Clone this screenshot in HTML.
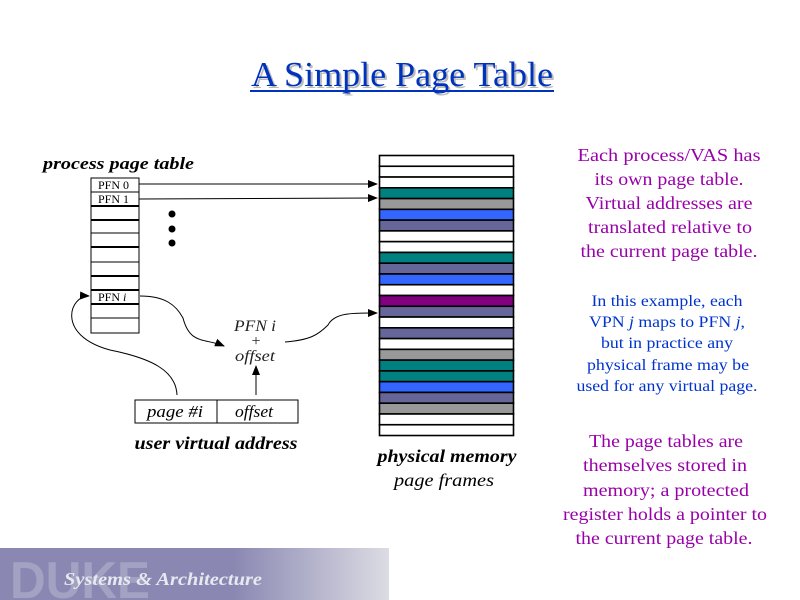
<!DOCTYPE html>
<html><head><meta charset="utf-8"><style>
html,body{margin:0;padding:0;background:#fff;}
body{width:800px;height:600px;position:relative;overflow:hidden;font-family:"Liberation Serif",serif;}
</style></head><body>
<svg width="800" height="600" viewBox="0 0 800 600" xmlns="http://www.w3.org/2000/svg" style="position:absolute;left:0;top:0">
<defs>
<linearGradient id="bn" x1="0" x2="1" y1="0" y2="0">
<stop offset="0" stop-color="#8a88b2"/><stop offset="0.6" stop-color="#8a88b2"/><stop offset="1" stop-color="#dcdce4"/>
</linearGradient>
<marker id="ah" markerWidth="10" markerHeight="8" refX="9" refY="4" orient="auto" markerUnits="userSpaceOnUse">
<path d="M0,0 L10,4 L0,8 z" fill="#000"/></marker>
</defs>
<!-- title -->
<text x="404" y="88" font-size="35" text-anchor="middle" fill="#bbb" textLength="302" lengthAdjust="spacingAndGlyphs">A Simple Page Table</text>
<text x="402" y="86" font-size="35" text-anchor="middle" fill="#0033bb" textLength="302" lengthAdjust="spacingAndGlyphs">A Simple Page Table</text>
<rect x="250" y="90" width="304" height="2" fill="#0033bb"/>

<!-- page table -->
<text x="43" y="169" font-size="17" font-weight="bold" font-style="italic" textLength="151" lengthAdjust="spacingAndGlyphs">process page table</text>
<rect x="91" y="178" width="48" height="155" stroke="#000" fill="#fff" stroke-width="1"/>
<g stroke="#000">
<line x1="91" y1="192" x2="139" y2="192" stroke-width="1"/>
<line x1="91" y1="206" x2="139" y2="206" stroke-width="2"/>
<line x1="91" y1="220" x2="139" y2="220" stroke-width="2"/>
<line x1="91" y1="233" x2="139" y2="233" stroke-width="1"/>
<line x1="91" y1="247" x2="139" y2="247" stroke-width="2"/>
<line x1="91" y1="262" x2="139" y2="262" stroke-width="1"/>
<line x1="91" y1="276" x2="139" y2="276" stroke-width="2"/>
<line x1="91" y1="290" x2="139" y2="290" stroke-width="2"/>
<line x1="91" y1="304" x2="139" y2="304" stroke-width="2"/>
<line x1="91" y1="318" x2="139" y2="318" stroke-width="1"/>
</g>
<g font-size="12" font-family="Liberation Serif,serif">
<text x="98" y="189">PFN 0</text>
<text x="98" y="203">PFN 1</text>
<text x="98" y="301">PFN <tspan font-style="italic">i</tspan></text>
</g>
<circle cx="172" cy="214" r="3.5"/><circle cx="172" cy="229" r="3.5"/><circle cx="172" cy="243" r="3.5"/>

<!-- arrows -->
<g stroke="#000" fill="none" stroke-width="1">
<line x1="139" y1="184" x2="377" y2="184" marker-end="url(#ah)"/>
<line x1="139" y1="199" x2="377" y2="198" marker-end="url(#ah)"/>
<path d="M140,296 C165,296 176,305 183,318 C190,345 205,338 224,346" marker-end="url(#ah)"/>
<path d="M285,342 C310,340 318,335 328,325 C335,312 355,313 377,313" marker-end="url(#ah)"/>
<path d="M177,395 C176,370 150,358 110,350 C55,335 70,295 89,296" marker-end="url(#ah)"/>
<line x1="256" y1="395" x2="256" y2="366" marker-end="url(#ah)"/>
</g>
<g font-size="16" font-style="italic" text-anchor="middle" fill="#222">
<text x="255" y="331" textLength="42" lengthAdjust="spacingAndGlyphs">PFN i</text>
<text x="256" y="346" font-style="normal">+</text>
<text x="255" y="361" textLength="40" lengthAdjust="spacingAndGlyphs">offset</text>
</g>

<!-- virtual address -->
<rect x="135" y="400" width="163" height="23" fill="#fff" stroke="#000"/>
<line x1="217" y1="400" x2="217" y2="423" stroke="#000"/>
<text x="175" y="417" font-size="17" font-style="italic" text-anchor="middle" textLength="56" lengthAdjust="spacingAndGlyphs">page #i</text>
<text x="254" y="417" font-size="17" font-style="italic" text-anchor="middle" textLength="38" lengthAdjust="spacingAndGlyphs">offset</text>
<text x="216" y="449" font-size="18" font-weight="bold" font-style="italic" text-anchor="middle" textLength="163" lengthAdjust="spacingAndGlyphs">user virtual address</text>

<!-- physical memory -->
<g stroke="#000" stroke-width="1.6">
<rect x="379.5" y="155.5" width="134" height="10.77" fill="#fff"/>
<rect x="379.5" y="166.27" width="134" height="10.77" fill="#fff"/>
<rect x="379.5" y="177.04" width="134" height="10.77" fill="#fff"/>
<rect x="379.5" y="187.81" width="134" height="10.77" fill="#008080"/>
<rect x="379.5" y="198.58" width="134" height="10.77" fill="#999999"/>
<rect x="379.5" y="209.35" width="134" height="10.77" fill="#3366ff"/>
<rect x="379.5" y="220.12" width="134" height="10.77" fill="#666699"/>
<rect x="379.5" y="230.89" width="134" height="10.77" fill="#fff"/>
<rect x="379.5" y="241.66" width="134" height="10.77" fill="#fff"/>
<rect x="379.5" y="252.43" width="134" height="10.77" fill="#008080"/>
<rect x="379.5" y="263.2" width="134" height="10.77" fill="#666699"/>
<rect x="379.5" y="273.97" width="134" height="10.77" fill="#3366ff"/>
<rect x="379.5" y="284.74" width="134" height="10.77" fill="#fff"/>
<rect x="379.5" y="295.51" width="134" height="10.77" fill="#800080"/>
<rect x="379.5" y="306.28" width="134" height="10.77" fill="#666699"/>
<rect x="379.5" y="317.05" width="134" height="10.77" fill="#fff"/>
<rect x="379.5" y="327.82" width="134" height="10.77" fill="#666699"/>
<rect x="379.5" y="338.59" width="134" height="10.77" fill="#fff"/>
<rect x="379.5" y="349.36" width="134" height="10.77" fill="#999999"/>
<rect x="379.5" y="360.13" width="134" height="10.77" fill="#008080"/>
<rect x="379.5" y="370.9" width="134" height="10.77" fill="#008080"/>
<rect x="379.5" y="381.67" width="134" height="10.77" fill="#3366ff"/>
<rect x="379.5" y="392.44" width="134" height="10.77" fill="#666699"/>
<rect x="379.5" y="403.21" width="134" height="10.77" fill="#999999"/>
<rect x="379.5" y="413.98" width="134" height="10.77" fill="#fff"/>
<rect x="379.5" y="424.75" width="134" height="10.77" fill="#fff"/>
</g>
<text x="447" y="462" font-size="18" font-weight="bold" font-style="italic" text-anchor="middle" textLength="139" lengthAdjust="spacingAndGlyphs">physical memory</text>
<text x="444" y="486" font-size="18" font-style="italic" text-anchor="middle" textLength="100" lengthAdjust="spacingAndGlyphs">page frames</text>

<!-- right text -->
<g font-size="18" fill="#9900aa" text-anchor="middle" lengthAdjust="spacingAndGlyphs">
<text x="669" y="161" textLength="183" lengthAdjust="spacingAndGlyphs">Each process/VAS has</text>
<text x="669" y="185" textLength="149" lengthAdjust="spacingAndGlyphs">its own page table.</text>
<text x="669" y="209" textLength="167" lengthAdjust="spacingAndGlyphs">Virtual addresses are</text>
<text x="670" y="233" textLength="164" lengthAdjust="spacingAndGlyphs">translated relative to</text>
<text x="669" y="257" textLength="177" lengthAdjust="spacingAndGlyphs">the current page table.</text>
</g>
<g font-size="16" fill="#0033cc" text-anchor="middle">
<text x="667" y="306" textLength="151" lengthAdjust="spacingAndGlyphs">In this example, each</text>
<text x="667" y="327" textLength="156" lengthAdjust="spacingAndGlyphs">VPN <tspan font-style="italic">j</tspan> maps to PFN <tspan font-style="italic">j</tspan>,</text>
<text x="667" y="348" textLength="132" lengthAdjust="spacingAndGlyphs">but in practice any</text>
<text x="668" y="370" textLength="162" lengthAdjust="spacingAndGlyphs">physical frame may be</text>
<text x="667" y="391" textLength="181" lengthAdjust="spacingAndGlyphs">used for any virtual page.</text>
</g>
<g font-size="18" fill="#9900aa" text-anchor="middle">
<text x="666" y="447" textLength="154" lengthAdjust="spacingAndGlyphs">The page tables are</text>
<text x="665" y="471" textLength="164" lengthAdjust="spacingAndGlyphs">themselves stored in</text>
<text x="666" y="496" textLength="166" lengthAdjust="spacingAndGlyphs">memory; a protected</text>
<text x="665" y="520" textLength="204" lengthAdjust="spacingAndGlyphs">register holds a pointer to</text>
<text x="664" y="544" textLength="177" lengthAdjust="spacingAndGlyphs">the current page table.</text>
</g>

<!-- banner -->
<rect x="0" y="548" width="389" height="52" fill="url(#bn)"/>
<text x="10" y="598" font-size="52" font-weight="bold" font-family="Liberation Sans,sans-serif" fill="#a3a2c2" textLength="140" lengthAdjust="spacingAndGlyphs">DUKE</text>
<text x="64" y="585" font-size="18" font-style="italic" font-weight="bold" fill="#e8e8f0" textLength="198" lengthAdjust="spacingAndGlyphs">Systems &amp; Architecture</text>
</svg>
</body></html>
